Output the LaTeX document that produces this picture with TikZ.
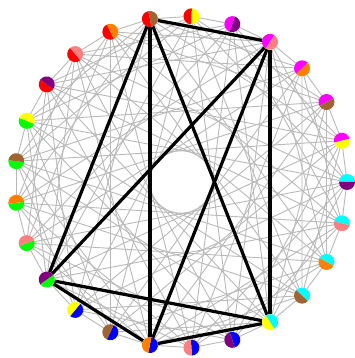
\documentclass[tikz,border=0pt]{standalone}
\usepackage{xcolor}
\usepackage{tikz}
\usetikzlibrary{calc}
\definecolor{hueA0}{RGB}{255,0,0}
\definecolor{hueA1}{RGB}{255,0,255}
\definecolor{hueA2}{RGB}{0,255,255}
\definecolor{hueA3}{RGB}{0,0,255}
\definecolor{hueA4}{RGB}{0,255,0}
\definecolor{hueB0}{RGB}{128,0,128}
\definecolor{hueB1}{RGB}{250,128,128}
\definecolor{hueB2}{RGB}{255,128,0}
\definecolor{hueB3}{RGB}{160,100,50}
\definecolor{hueB4}{RGB}{255,255,0}
\tikzset{
  vert/.style   = {circle, minimum size=16pt, inner sep=0pt, outer sep=0pt},
  mesh/.style   = {gray!55, line width=0.9pt},
  clique/.style = {black, line width=3.2pt},
}
\begin{document}
\begin{tikzpicture}[x=1pt, y=1pt]
  \useasboundingbox (0,0) rectangle (354,358);
  \coordinate (c) at (181,176);

  \foreach \k in {0,...,24} {
    \pgfmathsetmacro{\ang}{100.8-14.4*\k}
    \node[vert] (v\k) at ($(c)+(\ang:166)$) {};
  }

  % gray edges: second colours neighbours on the cycle
  \foreach \i in {0,...,24}
    \foreach \d in {1,4,6,9,11} {
      \pgfmathtruncatemacro{\j}{mod(\i+\d,25)}
      \draw[mesh] (v\i) -- (v\j);
    }

  \foreach \a/\b in {0/3, 0/11, 0/14, 0/17, 3/11, 3/14, 3/17, 11/14, 11/17, 14/17}
    \draw[clique] (v\a) -- (v\b);

  % two-coloured discs
  \foreach \k in {0,...,24} {
    \pgfmathsetmacro{\ang}{100.8-14.4*\k}
    \pgfmathtruncatemacro{\a}{mod(floor((\k+3)/5),5)}
    \pgfmathtruncatemacro{\b}{mod(\k+3,5)}
    \fill[hueA\a] (v\k.center) ++(\ang:8) arc[start angle=\ang, delta angle=180, radius=8] -- cycle;
    \fill[hueB\b] (v\k.center) ++(\ang:8) arc[start angle=\ang, delta angle=-180, radius=8] -- cycle;
  }
\end{tikzpicture}
\end{document}
